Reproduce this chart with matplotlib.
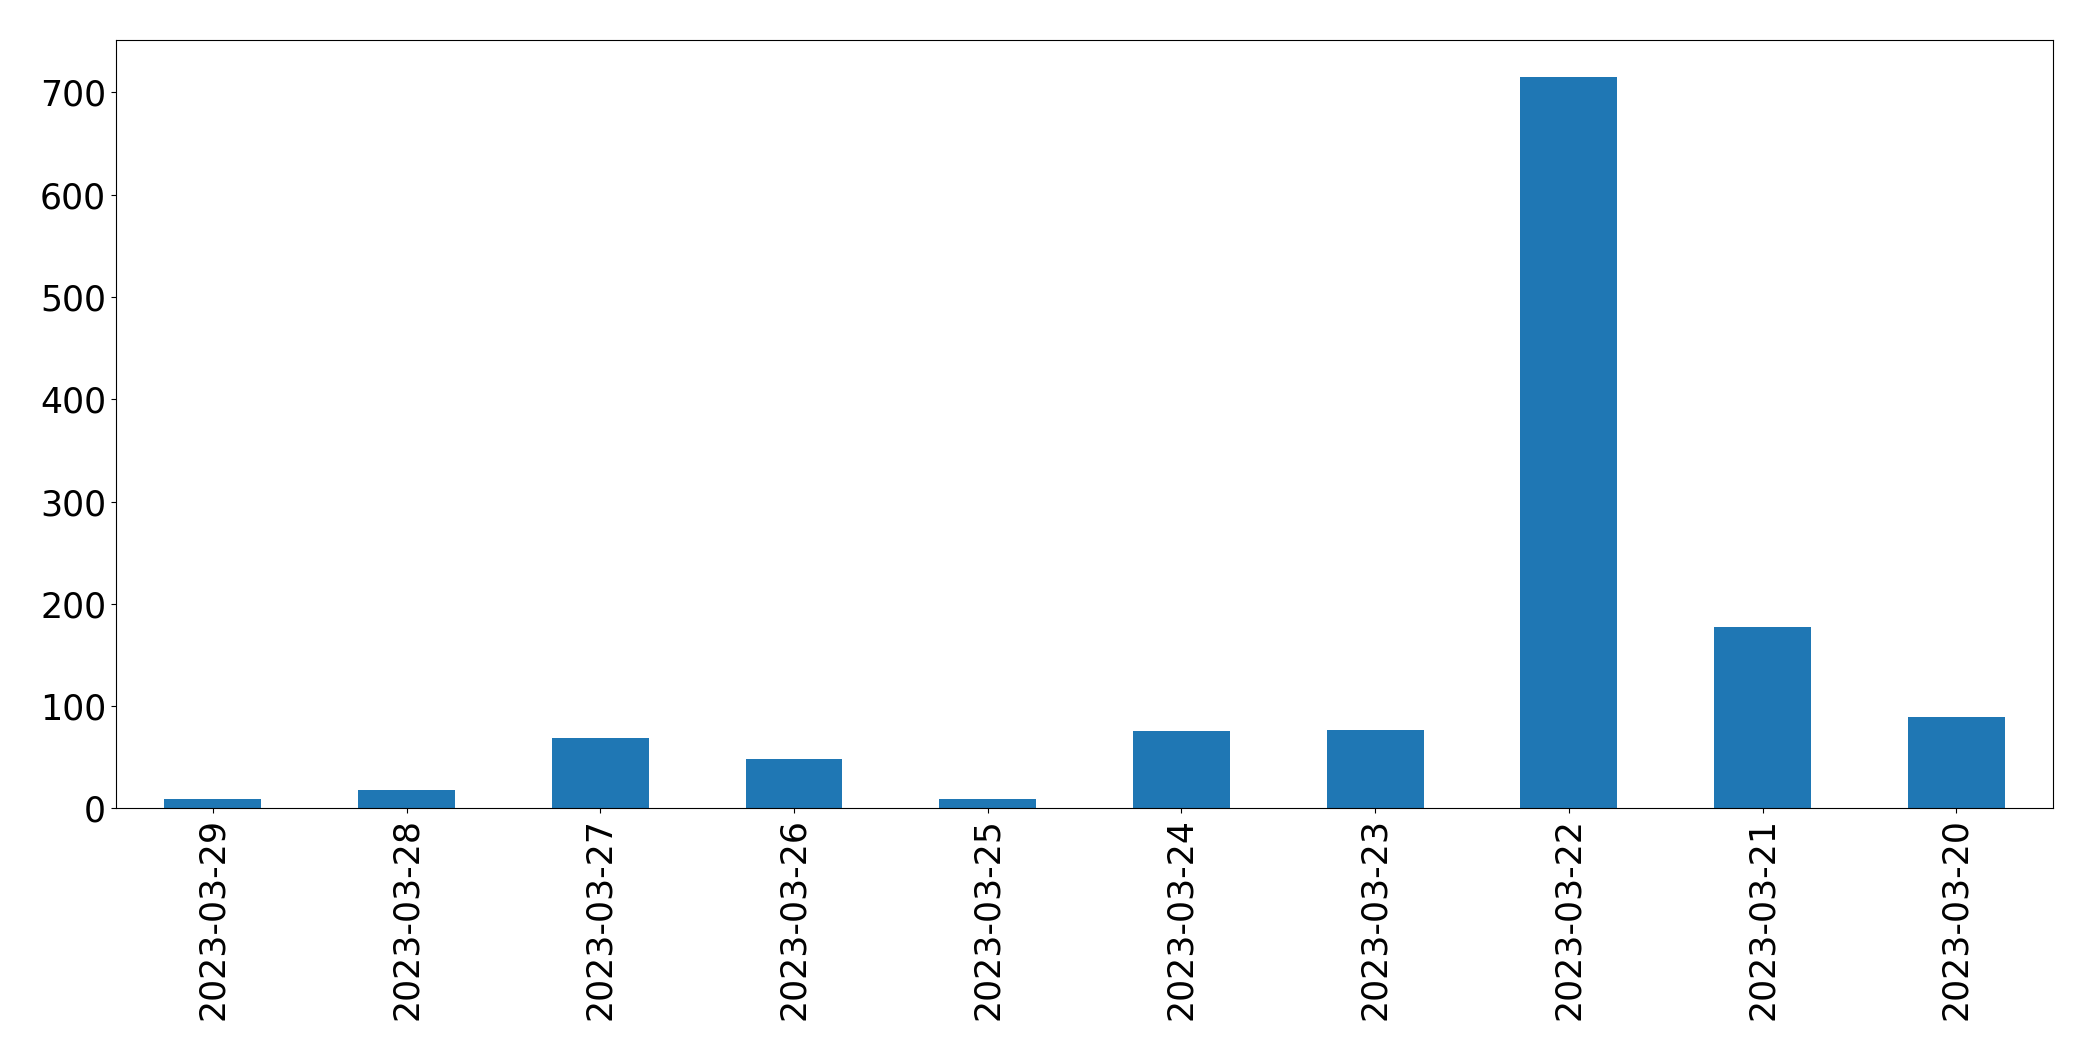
import matplotlib
matplotlib.use('Agg')
import matplotlib.pyplot as plt
import numpy as np

dates = ['2023-03-29', '2023-03-28', '2023-03-27', '2023-03-26', '2023-03-25',
         '2023-03-24', '2023-03-23', '2023-03-22', '2023-03-21', '2023-03-20']
counts = [9, 18, 69, 48, 9, 76, 77, 715, 177, 89]

if __name__ == '__main__':
    plt.rcParams['font.size'] = 25
    fig, ax = plt.subplots(figsize=(20.93, 10.61), dpi=100)
    fig.subplots_adjust(left=0.0554, right=0.981, top=0.962, bottom=0.238)

    x = np.arange(len(dates))
    ax.bar(x, counts, width=0.5, color='#1f77b4')
    ax.set_xticks(x)
    ax.set_xticklabels(dates, rotation=90)
    ax.set_xlim(-0.5, len(dates) - 0.5)
    ax.set_ylim(0, max(counts) * 1.05)

    fig.savefig('out.png', dpi=100)
